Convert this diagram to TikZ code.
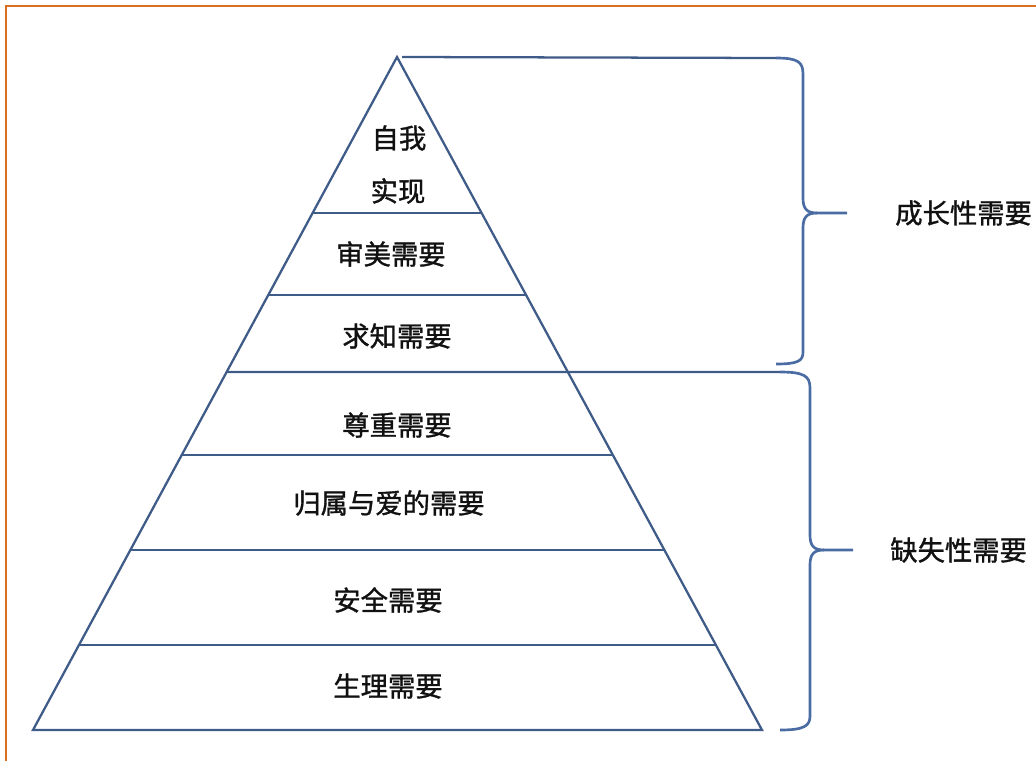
\documentclass[tikz,border=0pt]{standalone}
\usepackage{fontspec}
\setmainfont{Noto Sans CJK SC}[FakeBold=1.2]
\usepackage{xcolor}
\usepackage{tikz}
\usetikzlibrary{calc}
\definecolor{edge}{HTML}{3F5B88}
\definecolor{brace}{HTML}{4A6CA3}
\definecolor{frame}{HTML}{D8701F}
\definecolor{ink}{HTML}{111111}
\tikzset{
  tier/.style={draw=edge, line width=1.7pt},
  curly/.style={draw=brace, line width=2pt, line join=round},
  border/.style={draw=frame, line width=1.6pt},
  lab/.style={text=ink, inner sep=0pt, font=\fontsize{20.5}{26}\selectfont},
  every node/.style={text=ink}
}
\begin{document}
\begin{tikzpicture}[x=0.75pt,y=-0.75pt]
  \useasboundingbox (0,0) rectangle (1036,761);
  % frame, only left and top edges show
  \draw[border] (6,761) -- (6,6) -- (1036,6);

  \coordinate (apex) at (397,57);
  \coordinate (bl) at (33,730);
  \coordinate (br) at (762,730);
  \draw[tier, line join=miter] (bl) -- (apex) -- (br) -- cycle;

  % tier lines
  \foreach \t in {0.2318,0.3536,0.5914,0.7325,0.8737}
    \draw[tier] ($(apex)!\t!(bl)$) -- ($(apex)!\t!(br)$);

  % top brace (growth)
  \coordinate (gtop) at (776,58);
  \coordinate (gbot) at (776,364);
  \coordinate (gtip) at (847,213);
  \draw[tier] (apex) ++(5,0) -- (gtop);
  \draw[curly] (gtop) .. controls (798,58) and (803,62) .. (803,74) -- (803,198)
    .. controls (803,209) and (807,213) .. (817,213) -- (gtip);
  \draw[curly] (817,213) .. controls (807,213) and (803,217) .. (803,228) -- (803,352)
    .. controls (803,361) and (798,364) .. (gbot);

  % bottom brace (deficiency)
  \coordinate (dtop) at (780,372);
  \coordinate (dbot) at (780,730);
  \coordinate (dtip) at (853,550);
  \draw[tier] ($(apex)!0.468!(bl)$) -- (dtop);
  \draw[curly] (dtop) .. controls (804,372) and (810,376) .. (810,388) -- (810,535)
    .. controls (810,546) and (814,550) .. (824,550) -- (dtip);
  \draw[curly] (824,550) .. controls (814,550) and (810,554) .. (810,565) -- (810,716)
    .. controls (810,726) and (804,730) .. (dbot);

  % labels
  \node[lab] (self1) at (399,138) {自我};
  \node[lab] (self2) at (398,191) {实现};
  \node[lab] (aest) at (391,254) {审美需要};
  \node[lab] (know) at (397,336) {求知需要};
  \node[lab] (esteem) at (397,425) {尊重需要};
  \node[lab] (love) at (389,503) {归属与爱的需要};
  \node[lab] (safe) at (388,600) {安全需要};
  \node[lab] (phys) at (388,686) {生理需要};

  \node[lab, anchor=west] (grow) at (895,213) {成长性需要};
  \node[lab, anchor=west] (lack) at (890,550) {缺失性需要};
\end{tikzpicture}
\end{document}
